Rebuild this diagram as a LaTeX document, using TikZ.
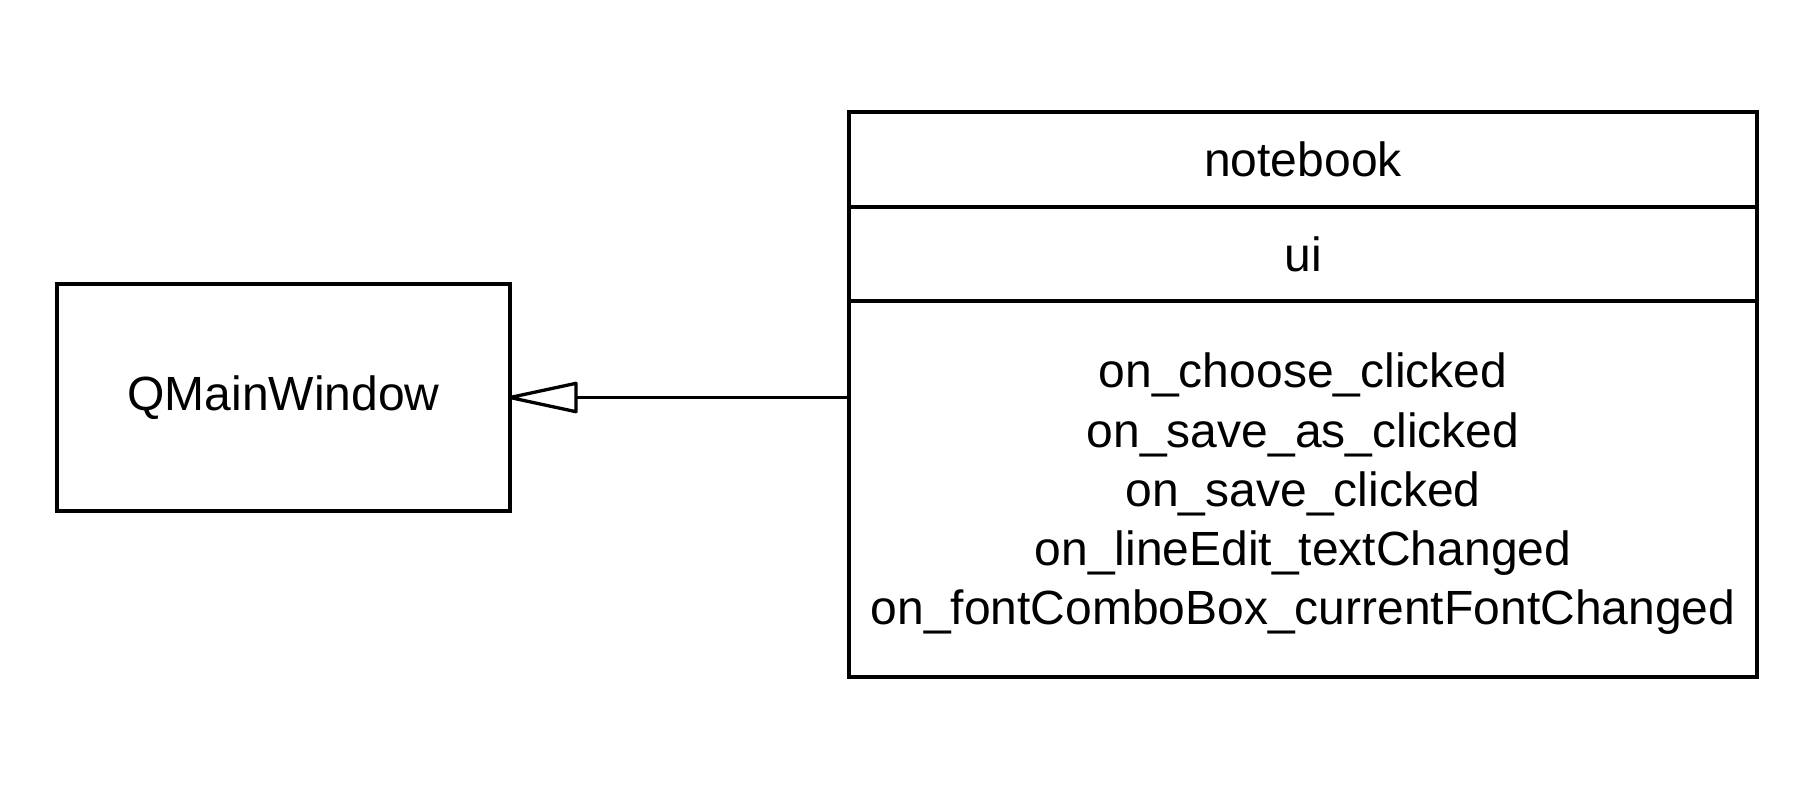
\documentclass[tikz,border=0pt]{standalone}
\usepackage{fontspec}
\setmainfont{Liberation Sans}
\tikzset{
  umlbox/.style={draw=black, line width=1.65pt, fill=white, inner sep=0pt, outer sep=0pt, rectangle},
  label24/.style={font=\fontsize{24}{30}\selectfont, inner sep=0pt, outer sep=0pt},
  connector/.style={draw=black, line width=1.65pt},
  openhead/.style={draw=black, fill=white, line width=1.65pt, line join=round}
}
\begin{document}
\begin{tikzpicture}[x=0.5pt, y=-0.5pt]
  \useasboundingbox[fill=white] (0,0) rectangle (1808,800);
  % QMainWindow
  \node[umlbox, label24, minimum width=453*0.5pt, minimum height=227*0.5pt] (qmw) at (283.5,397.5) {QMainWindow};
  % notebook class
  \node[umlbox, label24, minimum width=908*0.5pt, minimum height=95*0.5pt] (nbname) at (1303,159.5) {notebook};
  \node[umlbox, label24, minimum width=908*0.5pt, minimum height=94*0.5pt] (nbattr) at (1303,254) {ui};
  \node[umlbox, minimum width=908*0.5pt, minimum height=376*0.5pt] (methods) at (1303,489) {};
  \node[label24, anchor=base] (m1) at (1303,387.7) {on\_choose\_clicked};
  \node[label24, anchor=base] (m2) at (1303,447) {on\_save\_as\_clicked};
  \node[label24, anchor=base] (m3) at (1303,506.2) {on\_save\_clicked};
  \node[label24, anchor=base] (m4) at (1303,565.5) {on\_lineEdit\_textChanged};
  \node[label24, anchor=base] (m5) at (1303,624.7) {on\_fontComboBox\_currentFontChanged};
  % generalization: line to the base of the hollow triangle
  \coordinate (tbase) at ([xshift=33pt]qmw.east);
  \draw[connector] (methods.west |- qmw.east) -- (tbase);
  \draw[openhead] (qmw.east) -- ([yshift=7.1pt]tbase) -- ([yshift=-7.1pt]tbase) -- cycle;
\end{tikzpicture}
\end{document}
